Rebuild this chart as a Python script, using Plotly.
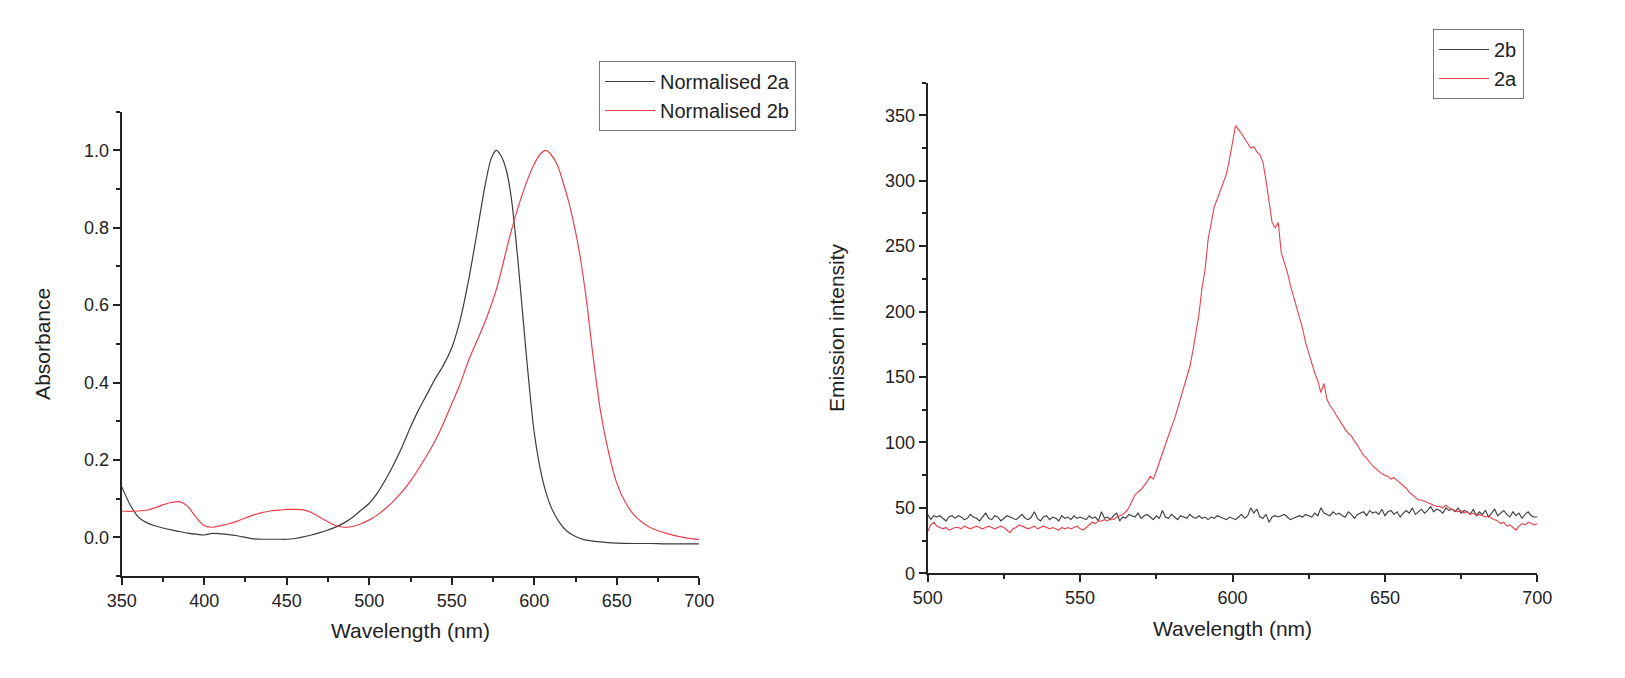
import numpy as np
import plotly.graph_objects as go

# ---------------- Left panel: normalised absorbance ----------------
abs_2a_wl = [350, 355, 360, 365, 370, 375, 380, 385, 390, 395,
             400, 405, 410, 415, 420, 425, 430, 435, 440, 445,
             450, 455, 460, 465, 470, 475, 480, 485, 490, 495,
             500, 505, 510, 515, 520, 525, 530, 535, 540, 545,
             550, 555, 560, 565, 570, 574, 577, 580, 583, 586,
             590, 595, 600, 605, 610, 615, 620, 625, 630, 640,
             650, 660, 670, 680, 690, 700]
abs_2a = [0.131, 0.085, 0.053, 0.038, 0.030, 0.024, 0.019, 0.015, 0.011, 0.008,
          0.006, 0.010, 0.009, 0.007, 0.004, 0.000, -0.004, -0.005, -0.005, -0.005,
          -0.005, -0.003, 0.001, 0.006, 0.012, 0.019, 0.027, 0.038, 0.052, 0.070,
          0.088, 0.115, 0.150, 0.190, 0.235, 0.285, 0.330, 0.370, 0.410, 0.445,
          0.490, 0.560, 0.660, 0.780, 0.905, 0.980, 1.000, 0.985, 0.950, 0.880,
          0.720, 0.480, 0.270, 0.150, 0.080, 0.040, 0.015, 0.002, -0.006, -0.012,
          -0.015, -0.016, -0.016, -0.017, -0.017, -0.017]

abs_2b_wl = [350, 355, 360, 365, 370, 375, 380, 385, 390, 395,
             400, 405, 410, 415, 420, 425, 430, 435, 440, 445,
             450, 455, 460, 465, 470, 475, 480, 485, 490, 495,
             500, 505, 510, 515, 520, 525, 530, 535, 540, 545,
             550, 555, 560, 565, 570, 577, 585, 590, 596, 600,
             604, 607, 610, 614, 618, 621, 625, 628, 632, 635,
             640, 645, 650, 655, 660, 665, 670, 680, 690, 700]
abs_2b = [0.068, 0.067, 0.068, 0.070, 0.076, 0.084, 0.090, 0.092, 0.080, 0.052,
          0.030, 0.026, 0.030, 0.035, 0.042, 0.050, 0.058, 0.064, 0.068, 0.070,
          0.072, 0.072, 0.071, 0.064, 0.052, 0.040, 0.030, 0.026, 0.028, 0.035,
          0.045, 0.058, 0.075, 0.095, 0.118, 0.145, 0.178, 0.212, 0.250, 0.295,
          0.345, 0.395, 0.455, 0.505, 0.555, 0.640, 0.775, 0.850, 0.925, 0.965,
          0.992, 1.000, 0.990, 0.962, 0.910, 0.865, 0.790, 0.720, 0.600, 0.490,
          0.330, 0.220, 0.140, 0.092, 0.060, 0.040, 0.026, 0.010, 0.000, -0.006]

# ---------------- Right panel: emission ----------------
em_wl = list(range(500, 701))
em_2b = [45, 41, 44, 43, 44, 42, 40, 43, 44, 42,
         44, 43, 41, 42, 45, 43, 42, 40, 43, 46,
         42, 41, 44, 43, 40, 42, 44, 43, 42, 41,
         43, 45, 42, 41, 43, 47, 42, 40, 43, 44,
         41, 43, 42, 40, 44, 42, 43, 41, 44, 42,
         43, 42, 41, 44, 42, 43, 40, 47, 42, 43,
         41, 44, 46, 40, 43, 42, 45, 44, 43, 46,
         42, 44, 45, 43, 41, 44, 42, 48, 43, 42,
         45, 43, 41, 44, 43, 42, 45, 43, 42, 44,
         42, 43, 41, 43, 42, 44, 43, 42, 41, 43,
         42, 41, 43, 45, 42, 44, 50, 46, 49, 43,
         42, 45, 39, 43, 44, 43, 44, 45, 43, 41,
         42, 43, 44, 43, 45, 44, 43, 46, 44, 50,
         46, 45, 44, 47, 45, 46, 44, 43, 47, 45,
         42, 45, 46, 47, 44, 48, 46, 47, 45, 49,
         44, 47, 48, 45, 47, 43, 46, 48, 46, 50,
         45, 47, 49, 46, 48, 51, 47, 49, 48, 46,
         50, 48, 49, 47, 50, 46, 48, 47, 45, 49,
         44, 47, 45, 48, 43, 46, 49, 44, 46, 48,
         45, 43, 47, 44, 46, 42, 45, 47, 44, 43,
         43]
em_2a = [32, 37, 39, 36, 35, 34, 35, 33, 34, 35,
         35, 34, 36, 35, 34, 35, 36, 35, 34, 35,
         36, 35, 34, 35, 36, 35, 33, 31, 34, 35,
         37, 36, 35, 34, 35, 36, 34, 35, 36, 35,
         34, 35, 34, 33, 35, 34, 35, 34, 35, 36,
         34, 33, 35, 37, 39, 38, 40, 40, 41, 40,
         42, 41, 43, 44, 45, 47, 50, 55, 60, 62,
         64, 67, 70, 74, 72, 78, 85, 92, 98, 105,
         112, 118, 126, 134, 141, 150, 158, 170, 185, 198,
         218, 232, 255, 268, 280, 286, 292, 298, 305, 316,
         330, 342, 339, 336, 332, 328, 325, 326, 322, 320,
         314, 300, 285, 268, 264, 268, 245, 238, 230, 220,
         212, 205, 196, 187, 176, 168, 160, 153, 147, 138,
         145, 133, 128, 125, 121, 117, 113, 110, 107, 105,
         101, 98, 94, 90, 88, 85, 82, 80, 78, 76,
         75, 74, 72, 73, 71, 69, 67, 65, 62, 60,
         58, 56, 56, 55, 54, 53, 52, 51, 51, 50,
         52, 50, 49, 48, 47, 48, 46, 47, 45, 46,
         44, 45, 44, 43, 44, 42, 41, 40, 38, 39,
         36, 37, 35, 33, 36, 38, 37, 39, 38, 37,
         38]

left_xticks = [350, 400, 450, 500, 550, 600, 650, 700]
left_yticks = [0.0, 0.2, 0.4, 0.6, 0.8, 1.0]
right_xticks = [500, 550, 600, 650, 700]
right_yticks = [0, 50, 100, 150, 200, 250, 300, 350]

BLACK = "#3c3c3c"
RED = "#e8404c"
FONT = "Liberation Sans, Arial, sans-serif"
W, H = 1625, 678
OFF = 8  # page body margin


def px(xp):
    return (xp - OFF) / W


def py(yp):
    return 1 - (yp - OFF) / H


fig = go.Figure()
fig.add_trace(go.Scatter(x=abs_2a_wl, y=abs_2a, mode="lines", name="Normalised 2a",
                         line=dict(color=BLACK, width=1.2, shape="spline", smoothing=0.8),
                         xaxis="x", yaxis="y", legend="legend"))
fig.add_trace(go.Scatter(x=abs_2b_wl, y=abs_2b, mode="lines", name="Normalised 2b",
                         line=dict(color=RED, width=1.2, shape="spline", smoothing=0.8),
                         xaxis="x", yaxis="y", legend="legend"))
fig.add_trace(go.Scatter(x=em_wl, y=em_2b, mode="lines", name="2b",
                         line=dict(color=BLACK, width=1.1),
                         xaxis="x2", yaxis="y2", legend="legend2"))
fig.add_trace(go.Scatter(x=em_wl, y=em_2a, mode="lines", name="2a",
                         line=dict(color=RED, width=1.1),
                         xaxis="x2", yaxis="y2", legend="legend2"))

axis_common = dict(showline=True, linecolor="#222", linewidth=2, ticks="outside",
                   tickcolor="#222", tickwidth=1.5, ticklen=7, showgrid=False,
                   zeroline=False, mirror=False, automargin=False,
                   tickfont=dict(family=FONT, size=18, color="#222"),
                   title_font=dict(family=FONT, size=21, color="#222"))

fig.update_layout(
    width=W, height=H,
    margin=dict(l=0, r=0, t=0, b=0, autoexpand=False),
    paper_bgcolor="white", plot_bgcolor="white",
    font=dict(family=FONT, color="#222"),
    xaxis=dict(domain=[px(121.7), px(699.3)], anchor="y", range=[350, 700],
               tickvals=left_xticks, title_text="Wavelength (nm)", title_standoff=14,
               minor=dict(ticks="outside", ticklen=4, tickwidth=1.5, tickcolor="#222", dtick=25),
               **axis_common),
    yaxis=dict(domain=[py(576), py(111.7)], anchor="x", range=[-0.1, 1.1],
               tickvals=left_yticks, ticktext=[f"{v:.1f}" for v in left_yticks],
               title_text="Absorbance", title_standoff=28,
               minor=dict(ticks="outside", ticklen=4, tickwidth=1.5, tickcolor="#222", dtick=0.1, tick0=0),
               **axis_common),
    xaxis2=dict(domain=[px(927.7), px(1537.3)], anchor="y2", range=[500, 700],
                tickvals=right_xticks, title_text="Wavelength (nm)", title_standoff=14,
                minor=dict(ticks="outside", ticklen=4, tickwidth=1.5, tickcolor="#222", dtick=25),
                **axis_common),
    yaxis2=dict(domain=[py(573.3), py(82.5)], anchor="x2", range=[0, 375],
                tickvals=right_yticks, title_text="Emission intensity", title_standoff=35,
                minor=dict(ticks="outside", ticklen=4, tickwidth=1.5, tickcolor="#222", dtick=25),
                **axis_common),
    legend=dict(x=px(599), y=py(61), xanchor="left", yanchor="top",
                bordercolor="#777", borderwidth=1, bgcolor="white", itemwidth=50,
                font=dict(family=FONT, size=20, color="#222"), tracegroupgap=0),
    legend2=dict(x=px(1433), y=py(29), xanchor="left", yanchor="top",
                 bordercolor="#777", borderwidth=1, bgcolor="white", itemwidth=50,
                 font=dict(family=FONT, size=20, color="#222"), tracegroupgap=0),
)

fig.write_html("out.html")
